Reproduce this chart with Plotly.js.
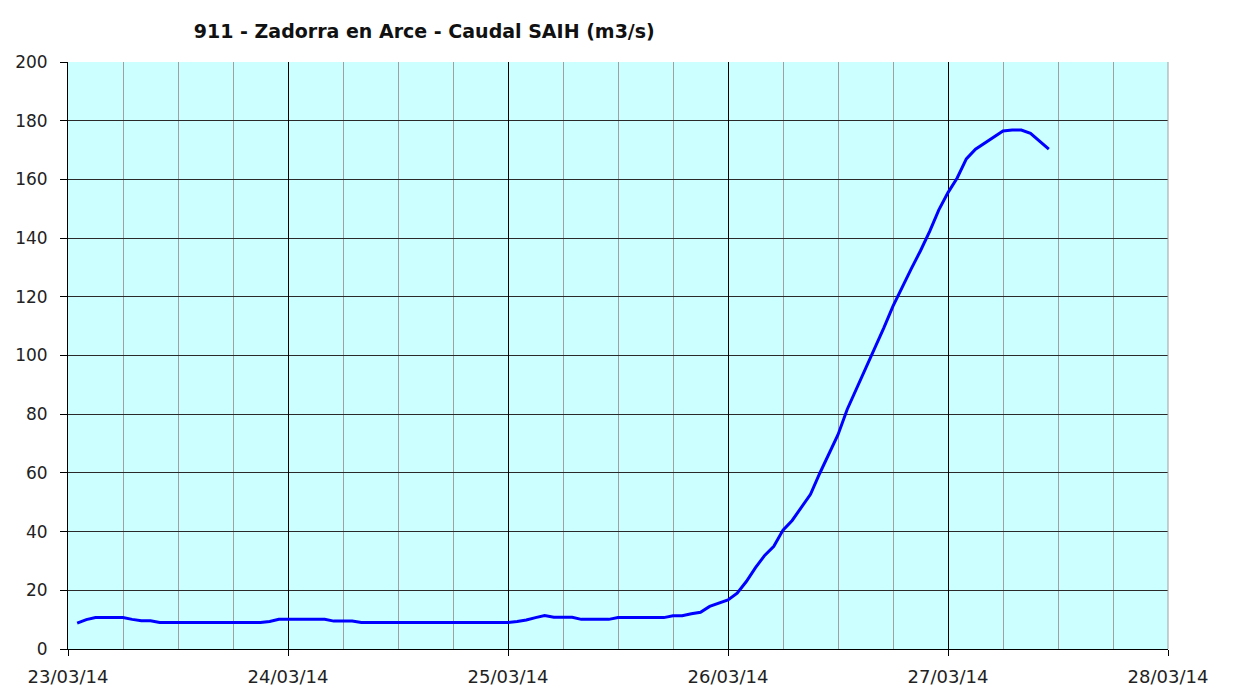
<!DOCTYPE html>
<html>
<head>
<meta charset="utf-8">
<script src="https://cdn.plot.ly/plotly-3.0.1.min.js"></script>
<style>
  html, body { margin: 0; padding: 0; background: #ffffff; }
  #chart { width: 1259px; height: 689px; }
</style>
</head>
<body>
<div id="chart"></div>
<script>
// Caudal SAIH, estación 911 Zadorra en Arce (lecturas horarias)
const times = [
  '2014-03-23 01:00', '2014-03-23 02:00', '2014-03-23 03:00', '2014-03-23 06:00',
  '2014-03-23 07:00', '2014-03-23 08:00', '2014-03-23 09:00', '2014-03-23 10:00',
  '2014-03-23 21:00', '2014-03-23 22:00', '2014-03-23 23:00', '2014-03-24 04:00',
  '2014-03-24 05:00', '2014-03-24 07:00', '2014-03-24 08:00', '2014-03-25 00:00',
  '2014-03-25 01:00', '2014-03-25 02:00', '2014-03-25 03:00', '2014-03-25 04:00',
  '2014-03-25 05:00', '2014-03-25 07:00', '2014-03-25 08:00', '2014-03-25 11:00',
  '2014-03-25 12:00', '2014-03-25 17:00', '2014-03-25 18:00', '2014-03-25 19:00',
  '2014-03-25 20:00', '2014-03-25 21:00', '2014-03-25 22:00', '2014-03-25 23:00',
  '2014-03-26 00:00', '2014-03-26 01:00', '2014-03-26 02:00', '2014-03-26 03:00',
  '2014-03-26 04:00', '2014-03-26 05:00', '2014-03-26 06:00', '2014-03-26 07:00',
  '2014-03-26 08:00', '2014-03-26 09:00', '2014-03-26 10:00', '2014-03-26 11:00',
  '2014-03-26 12:00', '2014-03-26 13:00', '2014-03-26 14:00', '2014-03-26 15:00',
  '2014-03-26 16:00', '2014-03-26 17:00', '2014-03-26 18:00', '2014-03-26 19:00',
  '2014-03-26 20:00', '2014-03-26 21:00', '2014-03-26 22:00', '2014-03-26 23:00',
  '2014-03-27 00:00', '2014-03-27 01:00', '2014-03-27 02:00', '2014-03-27 03:00',
  '2014-03-27 04:00', '2014-03-27 05:00', '2014-03-27 06:00', '2014-03-27 07:00',
  '2014-03-27 08:00', '2014-03-27 09:00', '2014-03-27 10:00', '2014-03-27 11:00'
];

const caudal = [
  8.8, 10.0, 10.7, 10.7,
  10.1, 9.6, 9.6, 9.0,
  9.0, 9.4, 10.1, 10.1,
  9.5, 9.5, 9.0, 9.0,
  9.4, 9.9, 10.7, 11.4,
  10.8, 10.8, 10.1, 10.1,
  10.7, 10.7, 11.3, 11.3,
  12.0, 12.5, 14.5, 15.5,
  16.7, 19.0, 23.0, 27.7,
  31.9, 35.0, 40.5, 43.8,
  48.2, 52.7, 59.8, 66.6,
  73.0, 81.6, 88.4, 95.2,
  102.2, 109.4, 116.8, 123.5,
  129.6, 135.7, 142.3, 149.6,
  155.5, 160.5, 167.0, 170.3,
  172.3, 174.6, 176.5, 176.8,
  176.8, 175.7, 172.9, 170.3
];

const xRange = ['2014-03-23 00:00', '2014-03-28 00:00'];
const yRange = [0, 200];

const FONT = 'DejaVu Sans, Verdana, sans-serif';
const DAY = 86400000;
const SIX_HOURS = 21600000;

const traces = [
  {
    x: times,
    y: caudal,
    type: 'scatter',
    mode: 'lines',
    line: { color: '#0000ff', width: 3 },
    hoverinfo: 'skip',
  },
  // empty trace so the daily overlay axis gets its own subplot
  { x: [], y: [], xaxis: 'x2', yaxis: 'y', type: 'scatter', mode: 'lines', hoverinfo: 'skip' },
];

const layout = {
  width: 1259,
  height: 689,
  margin: { t: 62, r: 91, b: 40, l: 68 },
  paper_bgcolor: '#ffffff',
  plot_bgcolor: '#ccffff',
  font: { family: FONT, size: 17, color: '#222222' },
  showlegend: false,
  title: {
    text: '<b>911 - Zadorra en Arce - Caudal SAIH (m3/s)</b>',
    font: { family: FONT, size: 19, color: '#111111' },
    xref: 'container', x: 0.337, xanchor: 'center',
    yref: 'container', y: 0.955, yanchor: 'middle',
  },
  // 6-hour gray grid (no labels)
  xaxis: {
    type: 'date',
    range: xRange,
    tick0: xRange[0],
    dtick: SIX_HOURS,
    ticks: '',
    showticklabels: false,
    showline: true,
    linecolor: '#000000',
    linewidth: 1,
    showgrid: true,
    gridcolor: '#a0a0a0',
    gridwidth: 1,
    zeroline: false,
    fixedrange: true,
  },
  // daily black grid + labels
  xaxis2: {
    type: 'date',
    overlaying: 'x',
    anchor: 'y',
    side: 'bottom',
    range: xRange,
    tick0: xRange[0],
    dtick: DAY,
    tickformat: '%d/%m/%y',
    tickfont: { family: FONT, size: 18, color: '#222222' },
    ticks: 'outside',
    ticklen: 6,
    tickcolor: '#000000',
    ticklabelstandoff: 5,
    showline: false,
    showgrid: true,
    gridcolor: '#000000',
    gridwidth: 1,
    zeroline: false,
    fixedrange: true,
  },
  yaxis: {
    range: yRange,
    dtick: 20,
    ticks: 'outside',
    ticklen: 7,
    tickcolor: '#000000',
    ticklabelstandoff: 9,
    showline: true,
    linecolor: '#000000',
    linewidth: 1,
    showgrid: true,
    gridcolor: '#2a2a2a',
    gridwidth: 1,
    zeroline: false,
    fixedrange: true,
  },
  shapes: [{
    type: 'line', xref: 'paper', yref: 'paper',
    x0: 1, x1: 1, y0: 0, y1: 1,
    line: { color: '#a0a0a0', width: 1 },
    layer: 'above',
  }],
};

Plotly.newPlot('chart', traces, layout, { displayModeBar: false, staticPlot: true });
</script>
</body>
</html>
